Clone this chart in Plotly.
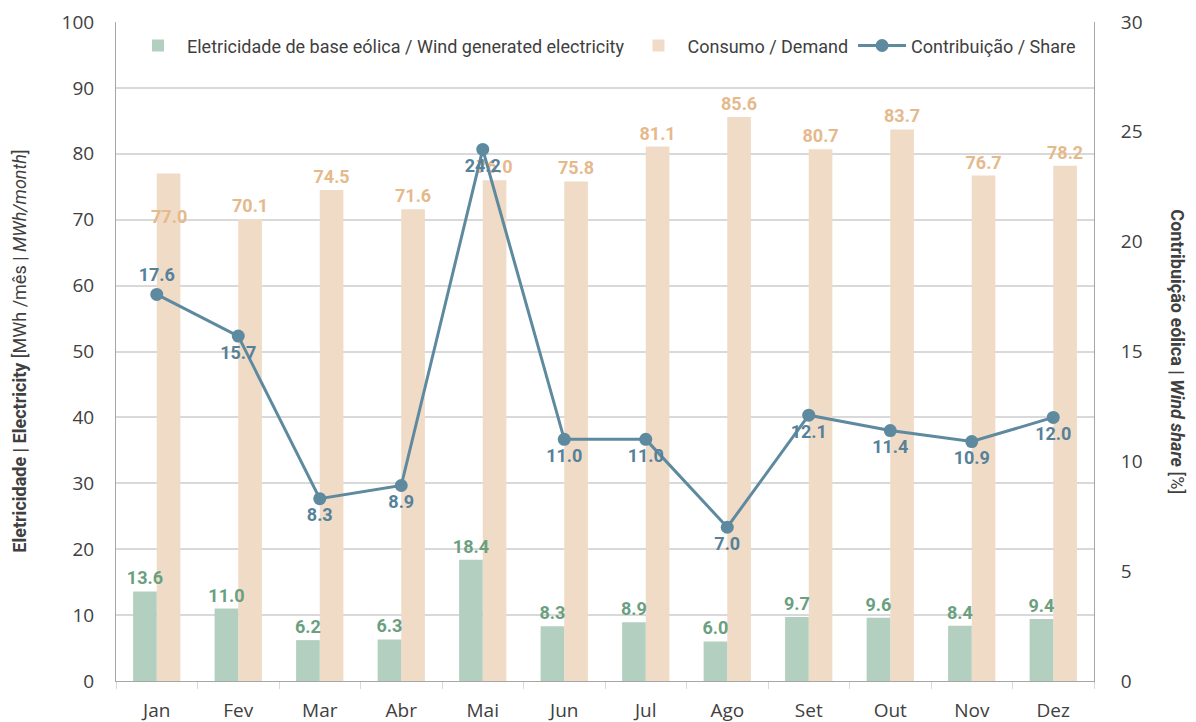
import plotly.graph_objects as go

meses = ["Jan", "Fev", "Mar", "Abr", "Mai", "Jun", "Jul", "Ago", "Set", "Out", "Nov", "Dez"]
eolica = [13.6, 11.0, 6.2, 6.3, 18.4, 8.3, 8.9, 6.0, 9.7, 9.6, 8.4, 9.4]
consumo = [77.0, 70.1, 74.5, 71.6, 76.0, 75.8, 81.1, 85.6, 80.7, 83.7, 76.7, 78.2]
contribuicao = [17.6, 15.7, 8.3, 8.9, 24.2, 11.0, 11.0, 7.0, 12.1, 11.4, 10.9, 12.0]

VERDE = "#b3cfbf"
VERDE_TXT = "#6a9f7f"
LARANJA = "#f0dbc7"
LARANJA_TXT = "#e6b98c"
AZUL = "#5e8a9f"
AZUL_TXT = "#56819a"
EIXO = "#a6a6a6"
GRELHA = "#d9d9d9"
FONTE = "Roboto, sans-serif"
FONTE_EIXO = "Open Sans, sans-serif"
LARG = 0.29  # largura de cada barra (em unidades de categoria)

fig = go.Figure()

# consumo desenhado primeiro para que os rótulos verdes fiquem por cima
# o rótulo de Janeiro fica sobre a barra (como no original)
pos_consumo = ["none"] + ["outside"] * (len(consumo) - 1)
fig.add_trace(go.Bar(
    x=meses, y=consumo,
    name="Consumo / Demand",
    legendrank=2,
    width=LARG, offset=0,
    marker=dict(color=LARANJA, line=dict(width=0)),
    text=[f"{v:.1f}" for v in consumo],
    texttemplate="<b>%{text}</b>",
    textposition=pos_consumo,
    constraintext="none",
    textfont=dict(color=LARANJA_TXT, size=18, family=FONTE),
    cliponaxis=False,
))

fig.add_trace(go.Bar(
    x=meses, y=eolica,
    name="Eletricidade de base eólica / Wind generated electricity",
    legendrank=1,
    width=LARG, offset=-LARG,
    marker=dict(color=VERDE, line=dict(width=0)),
    text=[f"{v:.1f}" for v in eolica],
    texttemplate="<b>%{text}</b>",
    textposition="outside",
    constraintext="none",
    textfont=dict(color=VERDE_TXT, size=18, family=FONTE),
    cliponaxis=False,
))

fig.add_annotation(
    x=meses[0], y=consumo[0], xref="x", yref="y",
    text=f"<b>{consumo[0]:.1f}</b>", showarrow=False,
    xshift=12, yshift=-43,
    font=dict(color=LARANJA_TXT, size=18, family=FONTE),
)

pos_linha = ["top center"] + ["bottom center"] * (len(contribuicao) - 1)
fig.add_trace(go.Scatter(
    x=meses, y=contribuicao,
    name="Contribuição / Share",
    legendrank=3,
    yaxis="y2",
    mode="lines+markers+text",
    line=dict(color=AZUL, width=3),
    marker=dict(color=AZUL, size=13),
    text=[f"<b>{v:.1f}</b>" for v in contribuicao],
    textposition=pos_linha,
    textfont=dict(color=AZUL_TXT, size=18, family=FONTE),
    cliponaxis=False,
))

# a página tem 8 px de margem no corpo: a figura é reduzida em conformidade
fig.update_layout(
    width=1188, height=714,
    margin=dict(l=108, r=102, t=14, b=41, autoexpand=False),
    plot_bgcolor="white",
    paper_bgcolor="white",
    barmode="overlay",
    showlegend=True,
    legend=dict(
        orientation="h", x=0.5, xanchor="center", y=0.992, yanchor="top",
        font=dict(size=18, family=FONTE, color="#404040"),
        bgcolor="rgba(255,255,255,1)",
        itemwidth=48,
    ),
    xaxis=dict(
        automargin=False,
        range=[-0.5, len(meses) - 0.5],
        showline=True, linecolor=EIXO, linewidth=1,
        ticks="outside", tickcolor=GRELHA, ticklen=7,
        tickson="boundaries", ticklabelstandoff=12,
        tickfont=dict(size=19, family=FONTE_EIXO, color="#404040"),
        showgrid=False,
    ),
    yaxis=dict(
        automargin=False,
        range=[0, 100], dtick=10,
        showline=True, linecolor=EIXO, linewidth=1,
        showgrid=True, gridcolor=GRELHA, gridwidth=1.5,
        zeroline=False,
        ticks="", ticklabelstandoff=17,
        tickfont=dict(size=19, family=FONTE_EIXO, color="#404040"),
    ),
    yaxis2=dict(
        automargin=False,
        range=[0, 30], dtick=5, overlaying="y", side="right",
        showline=True, linecolor=EIXO, linewidth=1,
        showgrid=False, zeroline=False,
        ticks="", ticklabelstandoff=22,
        tickfont=dict(size=19, family=FONTE_EIXO, color="#404040"),
    ),
)

fig.add_annotation(
    x=-0.099, y=0.5, xref="paper", yref="paper", xanchor="center", yanchor="middle",
    text="<b>Eletricidade | Electricity</b> [MWh /mês | <i>MWh/month</i>]",
    textangle=-90, showarrow=False,
    font=dict(size=18, family=FONTE, color="#404040"),
)
fig.add_annotation(
    x=1.085, y=0.5, xref="paper", yref="paper", xanchor="center", yanchor="middle",
    text="<b>Contribuição eólica | <i>Wind share</i></b> [%]",
    textangle=90, showarrow=False,
    font=dict(size=18, family=FONTE, color="#404040"),
)

fig.write_html("out.html")
